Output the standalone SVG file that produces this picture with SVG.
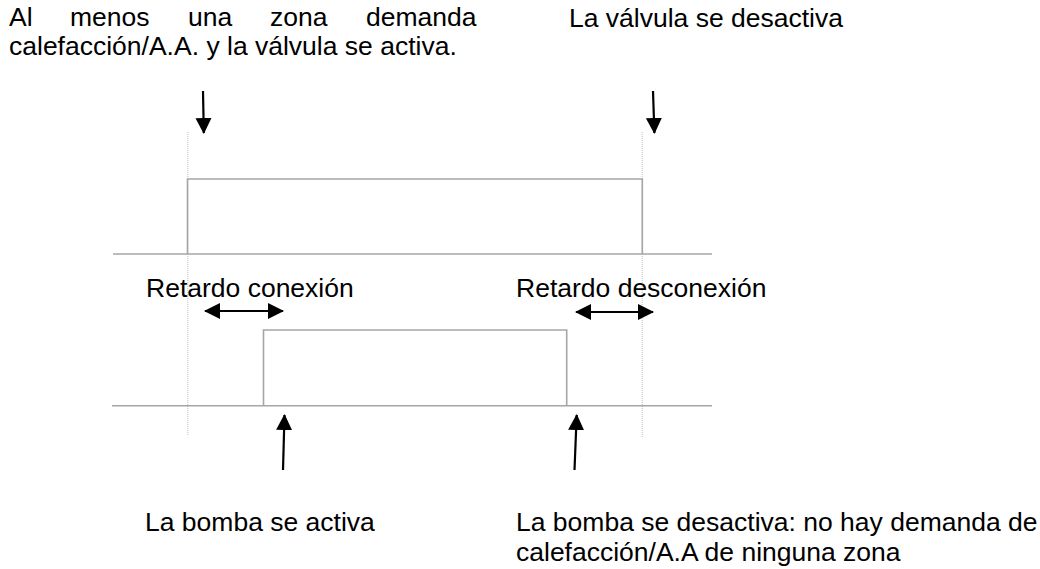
<svg xmlns="http://www.w3.org/2000/svg" width="1040" height="569" viewBox="0 0 1040 569">
  <style>
    .t { font-family: "Liberation Sans", Arial, sans-serif; font-size: 26.5px; fill: #000; }
    .sig { fill: none; stroke: #a6a6a6; stroke-width: 1.6; }
    .guide { fill: none; stroke: #d4d4d4; stroke-width: 1.5; stroke-dasharray: 1 1; }
    .arr { fill: none; stroke: #000; stroke-width: 2.2; }
  </style>
  <defs>
    <marker id="head" viewBox="0 0 16 16" refX="15" refY="8" markerWidth="16" markerHeight="17" markerUnits="userSpaceOnUse" orient="auto-start-reverse">
      <path d="M0,0 L16,8 L0,16 Z" fill="#000"/>
    </marker>
  </defs>

  <g id="guides">
    <line class="guide" x1="187.7" y1="132" x2="187.7" y2="436"/>
    <line class="guide" x1="642.3" y1="132" x2="642.3" y2="437"/>
  </g>

  <g id="valve-signal">
    <line class="sig" x1="113" y1="254" x2="712" y2="254"/>
    <polyline class="sig" points="187.5,254 187.5,179 642.3,179 642.3,254"/>
  </g>

  <g id="pump-signal">
    <line class="sig" x1="112" y1="405.7" x2="712" y2="405.7"/>
    <polyline class="sig" points="263.5,405.7 263.5,330 566.7,330 566.7,405.7"/>
  </g>

  <g id="connectors">
    <line class="arr" x1="203" y1="91" x2="203.8" y2="133" marker-end="url(#head)"/>
    <line class="arr" x1="653" y1="91" x2="654.4" y2="133" marker-end="url(#head)"/>
    <line class="arr" x1="283" y1="470" x2="284.5" y2="415" marker-end="url(#head)"/>
    <line class="arr" x1="574.5" y1="470" x2="576.7" y2="415" marker-end="url(#head)"/>
    <line class="arr" x1="205" y1="311" x2="283" y2="311" marker-start="url(#head)" marker-end="url(#head)"/>
    <line class="arr" x1="576" y1="312" x2="653" y2="312" marker-start="url(#head)" marker-end="url(#head)"/>
  </g>

  <g id="label-valve-on">
    <text class="t" y="26"><tspan x="9">Al</tspan><tspan x="70">menos</tspan><tspan x="188">una</tspan><tspan x="270">zona</tspan><tspan x="366">demanda</tspan></text>
    <text class="t" x="9" y="55">calefacción/A.A. y la válvula se activa.</text>
  </g>
  <g id="label-valve-off">
    <text class="t" x="569" y="27">La válvula se desactiva</text>
  </g>
  <g id="label-delay-on">
    <text class="t" x="146" y="297">Retardo conexión</text>
  </g>
  <g id="label-delay-off">
    <text class="t" x="516" y="297">Retardo desconexión</text>
  </g>
  <g id="label-pump-on">
    <text class="t" x="145" y="531">La bomba se activa</text>
  </g>
  <g id="label-pump-off">
    <text class="t" x="516" y="531">La bomba se desactiva: no hay demanda de</text>
    <text class="t" x="516" y="561">calefacción/A.A de ninguna zona</text>
  </g>
</svg>
